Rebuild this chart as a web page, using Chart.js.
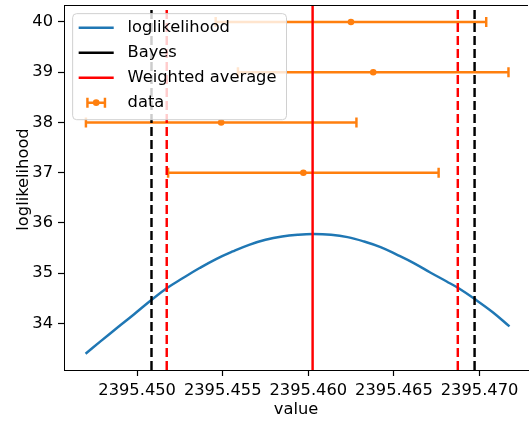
<!DOCTYPE html>
<html>
<head>
<meta charset="utf-8">
<script src="https://cdn.jsdelivr.net/npm/chart.js@4/dist/chart.umd.min.js"></script>
<style>
  html, body { margin: 0; padding: 0; background: #fff; overflow: hidden; }
  #wrap { width: 532px; height: 425px; }
</style>
</head>
<body>
<div id="wrap"><canvas id="chart" width="532" height="425"></canvas></div>
<script>
// --- data ---
const CURVE_X = [2395.44699, 2395.44786, 2395.44882, 2395.44979, 2395.45085, 2395.45175,
                 2395.45268, 2395.45365, 2395.45461, 2395.45558, 2395.45654, 2395.45750,
                 2395.45847, 2395.45940, 2395.46027, 2395.46133, 2395.46229, 2395.46326,
                 2395.46422, 2395.46519, 2395.46616, 2395.46712, 2395.46808, 2395.46876,
                 2395.46972, 2395.47079, 2395.47175];
const CURVE_Y = [33.397, 33.642, 33.909, 34.173, 34.471, 34.704,
                 34.903, 35.102, 35.281, 35.432, 35.565, 35.665,
                 35.730, 35.764, 35.778, 35.764, 35.718, 35.631,
                 35.519, 35.366, 35.201, 35.014, 34.835, 34.704,
                 34.485, 34.219, 33.940];

const DATA_X    = [2395.46249, 2395.46379, 2395.45491, 2395.45971];
const DATA_Y    = [40, 39, 38, 37];
const DATA_XERR = [0.0079, 0.0079, 0.0079, 0.0079];

const BAYES_X    = [2395.45084, 2395.46971];
const WAVG_X     = 2395.46025;
const WAVG_ERR_X = [2395.45173, 2395.46873];

const X_TICKS = [2395.450, 2395.455, 2395.460, 2395.465, 2395.470];
const Y_TICKS = [34, 35, 36, 37, 38, 39, 40];
const X_MIN = 2395.44573, X_MAX = 2395.47283;
const Y_MIN = 33.073, Y_MAX = 40.338;

const BLUE = '#1f77b4', ORANGE = '#ff7f0e', RED = '#ff0000', BLACK = '#000000';
const FS = 16.3;   // matplotlib 10pt at this dpi
const LW = 2.45;   // 1.5pt
const DASH = [9.1, 3.9];
const Y_TITLE = 'loglikelihood';

const LEGEND = [
  ['loglikelihood', 'line', BLUE],
  ['Bayes', 'line', BLACK],
  ['Weighted average', 'line', RED],
  ['data', 'errorbar', ORANGE],
];

Chart.defaults.font.family = "'DejaVu Sans', sans-serif";
Chart.defaults.font.size = FS;
Chart.defaults.color = '#000';

const vline = (x, color, dash) => ({
  data: [{ x: x, y: Y_MIN }, { x: x, y: Y_MAX }],
  showLine: true, borderColor: color, borderWidth: LW, borderDash: dash,
  pointRadius: 0, pointHoverRadius: 0,
});

// datasets earlier in the list are drawn on top
const datasets = [
  vline(WAVG_ERR_X[0], RED, DASH),
  vline(WAVG_ERR_X[1], RED, DASH),
  vline(WAVG_X, RED, []),
  vline(BAYES_X[0], BLACK, DASH),
  vline(BAYES_X[1], BLACK, DASH),
  { // data points (error bars drawn by plugin below)
    data: DATA_X.map((x, i) => ({ x: x, y: DATA_Y[i] })),
    backgroundColor: ORANGE, borderWidth: 0, pointRadius: 3.3, errorbars: true,
  },
  {
    data: CURVE_X.map((x, i) => ({ x: x, y: CURVE_Y[i] })),
    showLine: true, borderColor: BLUE, borderWidth: LW, pointRadius: 0,
    tension: 0.4,
  },
];

const errorBarPlugin = {
  id: 'errorbars',
  beforeDatasetDraw(chart, args) {
    const ds = chart.data.datasets[args.index];
    if (!ds.errorbars) return;
    const { x: xs, y: ys } = chart.scales;
    const ctx = chart.ctx;
    ctx.save();
    ctx.strokeStyle = ORANGE;
    ctx.lineWidth = LW;
    DATA_X.forEach((x, i) => {
      const py = ys.getPixelForValue(DATA_Y[i]);
      const x0 = xs.getPixelForValue(x - DATA_XERR[i]);
      const x1 = xs.getPixelForValue(x + DATA_XERR[i]);
      ctx.beginPath();
      ctx.moveTo(x0, py); ctx.lineTo(x1, py);
      ctx.moveTo(x0, py - 5); ctx.lineTo(x0, py + 5);
      ctx.moveTo(x1, py - 5); ctx.lineTo(x1, py + 5);
      ctx.stroke();
    });
    ctx.restore();
  }
};

const framePlugin = {
  id: 'frame',
  afterDraw(chart) {
    const ctx = chart.ctx, ca = chart.chartArea;
    ctx.save();
    // top spine
    ctx.strokeStyle = '#000';
    ctx.lineWidth = 1;
    ctx.beginPath();
    ctx.moveTo(ca.left, Math.round(ca.top) + 0.5);
    ctx.lineTo(ca.right, Math.round(ca.top) + 0.5);
    ctx.stroke();

    ctx.font = FS + "px 'DejaVu Sans'";

    // y axis label (sits a little above the axes centre in the reference)
    ctx.save();
    ctx.translate(ca.left - 40, (ca.top + ca.bottom) / 2 - 8);
    ctx.rotate(-Math.PI / 2);
    ctx.fillStyle = '#000';
    ctx.textAlign = 'center';
    ctx.textBaseline = 'middle';
    ctx.fillText(Y_TITLE, 0, 0);
    ctx.restore();

    // legend (upper left, matplotlib style)
    const textW = Math.max(...LEGEND.map(l => ctx.measureText(l[0]).width));
    const pad = 0.4 * FS, handleL = 2.15 * FS, textPad = 0.85 * FS, rowH = 25;
    const bx = ca.left + 0.5 * FS, by = ca.top + 0.5 * FS;
    const bw = pad + handleL + textPad + textW + pad + 3;
    const bh = 2 * pad + rowH * LEGEND.length - 7;
    ctx.beginPath();
    ctx.roundRect(bx + 0.5, by + 0.5, bw, bh, 4);
    ctx.fillStyle = 'rgba(255,255,255,0.8)';
    ctx.fill();
    ctx.strokeStyle = '#d0d0d0';
    ctx.lineWidth = 1;
    ctx.stroke();

    ctx.textBaseline = 'middle';
    ctx.textAlign = 'left';
    LEGEND.forEach((item, i) => {
      const cy = by + pad + 8 + i * rowH;
      const hx0 = bx + pad, hx1 = hx0 + handleL;
      ctx.strokeStyle = item[2];
      ctx.lineWidth = LW;
      if (item[1] === 'line') {
        ctx.beginPath();
        ctx.moveTo(hx0, cy); ctx.lineTo(hx1, cy);
        ctx.stroke();
      } else {
        const mid = (hx0 + hx1) / 2, half = 0.25 * handleL;
        ctx.beginPath();
        ctx.moveTo(mid - half, cy); ctx.lineTo(mid + half, cy);
        ctx.moveTo(mid - half, cy - 5); ctx.lineTo(mid - half, cy + 5);
        ctx.moveTo(mid + half, cy - 5); ctx.lineTo(mid + half, cy + 5);
        ctx.stroke();
        ctx.fillStyle = item[2];
        ctx.beginPath();
        ctx.arc(mid, cy, 3.3, 0, Math.PI * 2);
        ctx.fill();
      }
      ctx.fillStyle = '#000';
      ctx.fillText(item[0], hx1 + textPad, cy);
    });
    ctx.restore();
  }
};

new Chart(document.getElementById('chart'), {
  type: 'scatter',
  data: { datasets: datasets },
  plugins: [errorBarPlugin, framePlugin],
  options: {
    responsive: false,
    animation: false,
    layout: { padding: { left: 0, top: 5, right: 0, bottom: 0 } },
    plugins: { legend: { display: false }, tooltip: { enabled: false } },
    scales: {
      x: {
        type: 'linear', min: X_MIN, max: X_MAX,
        afterBuildTicks: s => { s.ticks = X_TICKS.map(v => ({ value: v })); },
        afterFit: s => { s.height = 55; s.paddingLeft = 0; s.paddingRight = 0; },
        ticks: { callback: v => v.toFixed(3), autoSkip: false, maxRotation: 0, padding: 5, color: '#000' },
        grid: { drawOnChartArea: false, drawTicks: true, tickLength: 6, color: '#000', tickWidth: 1.2 },
        border: { display: true, color: '#000', width: 1 },
        title: { display: true, text: 'value', color: '#000', padding: { top: 0, bottom: 5 } },
      },
      y: {
        type: 'linear', min: Y_MIN, max: Y_MAX,
        afterBuildTicks: s => { s.ticks = Y_TICKS.map(v => ({ value: v })); },
        afterFit: s => { s.width = 64; s.paddingTop = 0; s.paddingBottom = 0; },
        ticks: { callback: v => String(v), padding: 5, color: '#000' },
        grid: { drawOnChartArea: false, drawTicks: true, tickLength: 6, color: '#000', tickWidth: 1.2 },
        border: { display: true, color: '#000', width: 1 },
      },
    },
  },
});
</script>
</body>
</html>
